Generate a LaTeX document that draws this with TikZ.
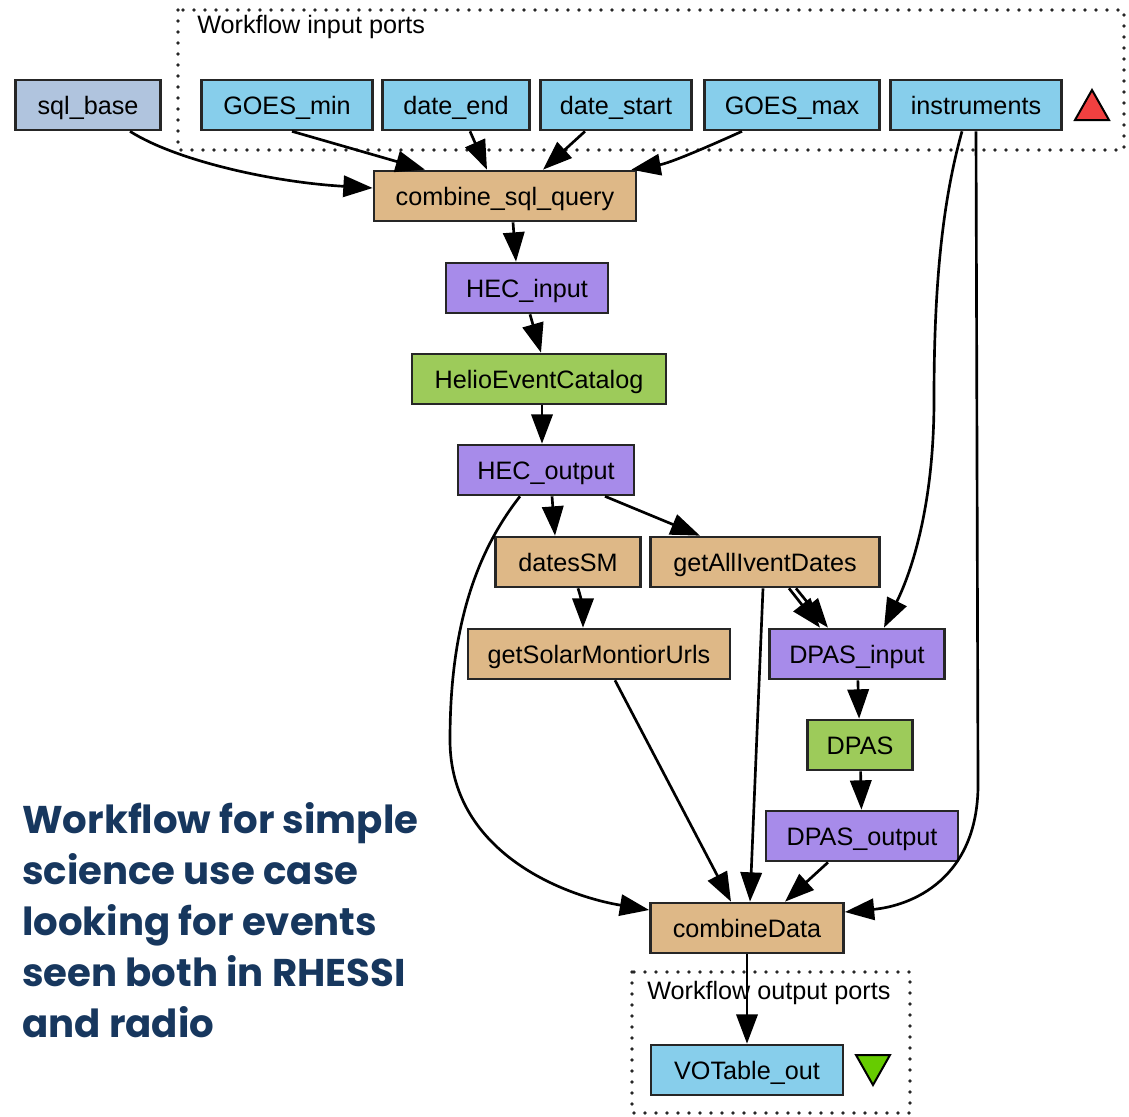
\documentclass[tikz,border=0pt]{standalone}
\usepackage{fontspec}
\setmainfont{Liberation Sans}
\newfontfamily\capfont{Poppins}
\usetikzlibrary{arrows.meta,calc}
\definecolor{sqlblue}{HTML}{B0C4DE}
\definecolor{portblue}{HTML}{87CEEB}
\definecolor{tan}{HTML}{DEB887}
\definecolor{lpurple}{HTML}{A78BEA}
\definecolor{lgreen}{HTML}{9DCB5A}
\definecolor{capnavy}{HTML}{17375E}
\definecolor{tred}{HTML}{F04040}
\definecolor{tgreen}{HTML}{66CC00}
\begin{document}
\begin{tikzpicture}[x=0.75pt,y=-0.75pt,
  box/.style={draw=black!85, line width=2pt, minimum height=37.5pt, inner sep=0pt,
    text height=13.5pt, text depth=0pt, font=\fontsize{18.9}{22}\selectfont},
  bw/.style={minimum width=#1*0.75pt},
  port/.style={box, fill=portblue},
  proc/.style={box, fill=tan},
  purp/.style={box, fill=lpurple},
  serv/.style={box, fill=lgreen},
  arr/.style={line width=2pt, draw=black, -{Triangle[length=22pt,width=16pt]}},
  dotbox/.style={line width=2.8pt, dash pattern=on 0pt off 8.25pt, line cap=round, draw=black!85},
  lbl/.style={font=\fontsize{18.9}{22}\selectfont, inner sep=0pt, anchor=base west}
]
\useasboundingbox (0,0) rectangle (1129,1117);

% dotted clusters
\draw[dotbox] (178,10) rectangle (1124,150);
\draw[dotbox] (632,972) rectangle (910,1113);
\node[lbl] (inlbl) at (197,33) {Workflow input ports};
\node[lbl] (outlbl) at (647,999) {Workflow output ports};

% nodes
\node[box, fill=sqlblue, bw=145] (sqlb) at (88,105) {sql\_base};
\node[port, bw=171] (gmin) at (287,105) {GOES\_min};
\node[port, bw=147] (dend) at (456,105) {date\_end};
\node[port, bw=151] (dstart) at (616,105) {date\_start};
\node[port, bw=175] (gmax) at (792,105) {GOES\_max};
\node[port, bw=171] (instr) at (976,105) {instruments};
\node[proc, bw=262] (csq) at (505,196) {combine\_sql\_query};
\node[purp, bw=162] (hecin) at (527,288) {HEC\_input};
\node[serv, bw=254] (helio) at (539,379) {HelioEventCatalog};
\node[purp, bw=176] (hecout) at (546,470) {HEC\_output};
\node[proc, bw=145] (dsm) at (568,562) {datesSM};
\node[proc, bw=229] (getall) at (765,562) {getAllIventDates};
\node[proc, bw=262] (gsol) at (599,654) {getSolarMontiorUrls};
\node[purp, bw=175] (dpin) at (857,654) {DPAS\_input};
\node[serv, bw=105] (dpas) at (860,745) {DPAS};
\node[purp, bw=192] (dpout) at (862,836) {DPAS\_output};
\node[proc, bw=193] (cd) at (747,928) {combineData};
\node[port, bw=192] (vot) at (747,1070) {VOTable\_out};

% triangles
\draw[line width=1.5pt, fill=tred] (1075,120) -- (1109,120) -- (1092,90) -- cycle;
\draw[line width=1.5pt, fill=tgreen] (856,1055) -- (890,1055) -- (873,1085) -- cycle;

% edges
\draw[arr] ($(sqlb.south)+(42,0)$) .. controls (175,160) and (270,182) .. ($(csq.west)+(0,-8)$);
\draw[arr] ($(gmin.south)+(5,0)$) -- ($(csq.north)+(-80,0)$);
\draw[arr] ($(dend.south)+(14,0)$) -- ($(csq.north)+(-18,0)$);
\draw[arr] ($(dstart.south)+(-31,0)$) -- ($(csq.north)+(38,0)$);
\draw[arr] ($(gmax.south)+(-50,0)$) .. controls (705,148) and (670,163) .. ($(csq.north east)+(-6,0)$);
\draw[arr] ($(csq.south)+(8,0)$) -- ($(hecin.north)+(-11,0)$);
\draw[arr] ($(hecin.south)+(3,0)$) -- ($(helio.north)+(2,0)$);
\draw[arr] ($(helio.south)+(3,0)$) -- ($(hecout.north)+(-4,0)$);
\draw[arr] ($(hecout.south)+(6,0)$) -- ($(dsm.north)+(-13,0)$);
\draw[arr] ($(hecout.south)+(59,0)$) -- ($(getall.north)+(-65,0)$);
\draw[arr] ($(hecout.south)+(-26,0)$) .. controls (470,560) and (450,640) .. (450,740)
   .. controls (450,850) and (560,895) .. ($(cd.west)+(0,-18)$);
\draw[arr] ($(dsm.south)+(10,0)$) .. controls (582,600) and (583,612) .. ($(gsol.north)+(-16,0)$);
\draw[arr] ($(getall.south)+(24,0)$) -- ($(dpin.north)+(-37,0)$);
\draw[arr] ($(getall.south)+(31,0)$) -- ($(dpin.north)+(-29,0)$);
\draw[arr] ($(instr.south)+(-14,0)$) .. controls (940,210) and (934,300) .. (934,400)
   .. controls (934,520) and (905,585) .. ($(dpin.north)+(27,0)$);
\draw[arr] (instr.south) -- (978,780) .. controls (980,880) and (910,906) .. ($(cd.east)+(0,-16)$);
\draw[arr] ($(getall.south)+(-2,0)$) -- ($(cd.north)+(3,0)$);
\draw[arr] ($(gsol.south)+(16,0)$) -- ($(cd.north)+(-16,0)$);
\draw[arr] (dpin) -- (dpas);
\draw[arr] (dpas) -- (dpout);
\draw[arr] ($(dpout.south)+(-34,0)$) -- ($(cd.north)+(38,0)$);
\draw[arr] (cd) -- (vot);

% caption
\node[anchor=north west, align=left, inner sep=0pt, text=capnavy,
  font=\capfont\bfseries\fontsize{29}{38.25}\selectfont] (cap) at (22,802)
  {Workflow for simple\\science use case\\looking for events\\seen both in RHESSI\\and radio};
\end{tikzpicture}
\end{document}
